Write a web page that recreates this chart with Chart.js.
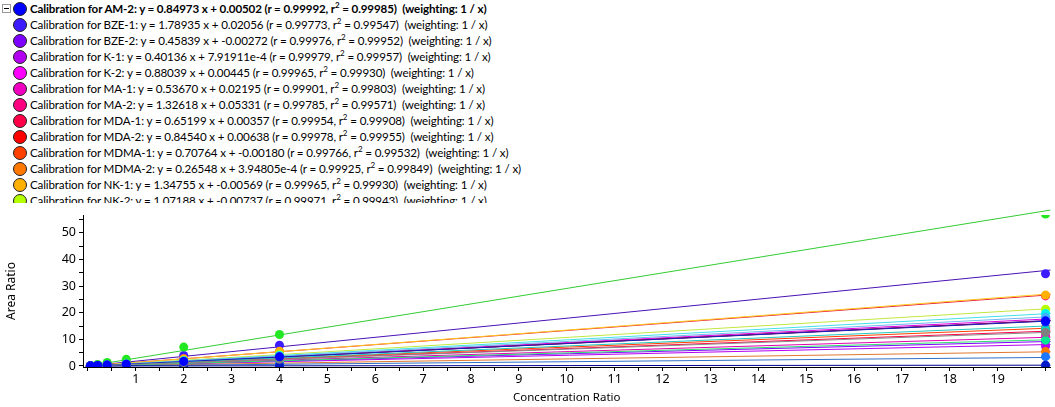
<!DOCTYPE html>
<html>
<head>
<meta charset="utf-8">
<script src="https://cdn.jsdelivr.net/npm/chart.js@4.4.1/dist/chart.umd.min.js"></script>
<style>
    body { margin: 0; width: 1055px; height: 407px; overflow: hidden; background: #fff; font-family: "Noto Sans", sans-serif; }
    #calList { position: absolute; left: 0; top: 0; width: 1055px; height: 203px; overflow: hidden; font-family: Lato, sans-serif; font-size: 11.6px; letter-spacing: -0.13px; padding-top: 1px; box-sizing: border-box; }
    .row { position: relative; height: 16px; line-height: 16px; white-space: pre; padding-left: 30px; color: #000; }
    .row .dot { position: absolute; left: 13px; top: 1px; width: 14px; height: 14px; border-radius: 50%; border: 1px solid #222; box-sizing: border-box; }
    .row.sel { font-weight: bold; }
    .toggle { position: absolute; left: 2px; top: 3px; width: 9px; height: 9px; border: 1px solid #999; box-sizing: border-box; background: #fff; }
    .toggle::after { content: ''; position: absolute; left: 1px; top: 3px; width: 5px; height: 1px; background: #000; }
    sup { font-size: 8px; line-height: 0; vertical-align: 5px; }
    #plotBox { position: absolute; left: 0; top: 203px; width: 1055px; height: 204px; }
</style>
</head>
<body>
<div id="calList"></div>
<div id="plotBox"><canvas id="calChart" width="1055" height="204"></canvas></div>
<script>
// ================= Data =================
// rows visible in the calibration list (the list is scrolled, later rows are cut off)
const calibNames = ["AM-2", "BZE-1", "BZE-2", "K-1", "K-2", "MA-1", "MA-2", "MDA-1", "MDA-2", "MDMA-1", "MDMA-2", "NK-1", "NK-2"];
const slopes = [0.84973, 1.78935, 0.45839, 0.40136, 0.88039, 0.53670, 1.32618, 0.65199, 0.84540, 0.70764, 0.26548, 1.34755, 1.07188];
const intercepts = [0.00502, 0.02056, -0.00272, 7.91911e-4, 0.00445, 0.02195, 0.05331, 0.00357, 0.00638, -0.00180, 3.94805e-4, -0.00569, -0.00737];
const rValues = [0.99992, 0.99773, 0.99976, 0.99979, 0.99965, 0.99901, 0.99785, 0.99954, 0.99978, 0.99766, 0.99925, 0.99965, 0.99971];
const r2Values = [0.99985, 0.99547, 0.99952, 0.99957, 0.99930, 0.99803, 0.99571, 0.99908, 0.99955, 0.99532, 0.99849, 0.99930, 0.99943];

// calibrations further down the list (not readable), slopes
const unlistedSlopes = [2.91, 0.49, 0.75, 0.98, 0.92, 0.16, 0.84, 0.015, 0.63];

// calibration standards (x) and measured area ratios (y), one list per calibration
const concX = [0.05, 0.2, 0.4, 0.8, 2, 4, 20];
const areaRatios = [
    [0.05, 0.17, 0.35, 0.69, 1.68, 3.42, 16.95],   // AM-2
    [0.10, 0.38, 0.74, 1.47, 3.95, 7.80, 34.6],    // BZE-1
    [0.02, 0.09, 0.18, 0.37, 0.92, 1.85, 9.15],    // BZE-2
    [0.02, 0.08, 0.16, 0.32, 0.81, 1.62, 7.45],    // K-1
    [0.05, 0.18, 0.35, 0.71, 1.77, 3.55, 17.5],    // K-2
    [0.05, 0.13, 0.23, 0.45, 1.10, 2.18, 11.3],    // MA-1
    [0.12, 0.32, 0.58, 1.12, 2.75, 5.40, 26.3],    // MA-2
    [0.04, 0.13, 0.27, 0.53, 1.31, 2.62, 12.9],    // MDA-1
    [0.05, 0.17, 0.34, 0.68, 1.70, 3.41, 16.8],    // MDA-2
    [0.03, 0.14, 0.28, 0.55, 1.40, 2.86, 14.1],    // MDMA-1
    [0.01, 0.05, 0.11, 0.21, 0.53, 1.07, 5.4],     // MDMA-2
    [0.06, 0.27, 0.54, 1.08, 2.68, 5.55, 26.6],    // NK-1
    [0.05, 0.21, 0.43, 0.86, 2.14, 4.30, 21.3],    // NK-2
    [0.15, 0.60, 1.35, 2.50, 7.10, 11.8, 57.0],
    [0.03, 0.10, 0.20, 0.39, 0.98, 1.97, 9.7],
    [0.04, 0.15, 0.30, 0.60, 1.50, 3.00, 13.8],
    [0.05, 0.20, 0.39, 0.79, 1.96, 3.95, 19.7],
    [0.05, 0.18, 0.37, 0.74, 1.84, 3.70, 18.3],
    [0.01, 0.03, 0.07, 0.13, 0.33, 0.66, 3.5],
    [0.04, 0.17, 0.33, 0.67, 1.68, 3.38, 16.5],
    [0.00, 0.00, 0.01, 0.01, 0.03, 0.06, 0.3],
    [0.03, 0.13, 0.25, 0.50, 1.26, 2.52, 12.6]
];

const xTickLabels = [1, 2, 3, 4, 5, 6, 7, 8, 9, 10, 11, 12, 13, 14, 15, 16, 17, 18, 19];
const yTickLabels = [0, 10, 20, 30, 40, 50];

// ================= Styles =================
const dotColors = ['#0000ff', '#3c1cff', '#7d00ff', '#b400f0', '#ff00ff', '#f000c0', '#ff0080', '#ff0048', '#ff0000', '#ff4000', '#ff7800', '#ffb000', '#b4ff00',
    '#22e822', '#00e890', '#00d8c0', '#00f0f0', '#40b0ff', '#1e78ff', '#0030ff', '#0018c8', '#808080'];
const lineColors = ['#0000e0', '#4a12b4', '#7d00ff', '#b400f0', '#e000e0', '#e000b0', '#e8203c', '#ff0048', '#e00000', '#ff4000', '#e07830', '#ffc820', '#c0e840',
    '#33cc33', '#30e070', '#20c8c0', '#40e0e8', '#70b8f0', '#3070c8', '#1020c0', '#000090', '#888888'];
const fontFamily = '"Noto Sans", sans-serif';

// ================= Calibration list =================
function fmt(v) {
    if (v !== 0 && Math.abs(v) < 0.001) return v.toExponential(5);
    return v.toFixed(5);
}

const list = document.getElementById("calList");
calibNames.forEach((name, i) => {
    const row = document.createElement("div");
    row.className = "row" + (i === 0 ? " sel" : "");
    row.innerHTML = `${i === 0 ? '<span class="toggle"></span>' : ''}<span class="dot" style="background:${dotColors[i]}"></span>` +
        `Calibration for ${name}: y = ${fmt(slopes[i])} x + ${fmt(intercepts[i])} (r = ${rValues[i].toFixed(5)}, r<sup>2</sup> = ${r2Values[i].toFixed(5)})  (weighting: 1 / x)`;
    list.appendChild(row);
});

// ================= Chart =================
const allSlopes = slopes.concat(unlistedSlopes);
const allIntercepts = intercepts.concat(unlistedSlopes.map(() => 0));
const n = allSlopes.length;
const xStart = 0, xEnd = 20.104;

const datasets = [];
allSlopes.forEach((m, i) => {
    const b = allIntercepts[i];
    datasets.push({
        type: 'line',
        label: 'fit ' + i,
        data: [{ x: xStart, y: m * xStart + b }, { x: xEnd, y: m * xEnd + b }],
        borderColor: lineColors[i],
        borderWidth: 1,
        pointRadius: 0,
        fill: false,
        clip: false,
        order: 200 + (n - i)
    });
    datasets.push({
        type: 'scatter',
        label: 'points ' + i,
        data: concX.map((x, k) => ({ x: x, y: areaRatios[i][k] })),
        backgroundColor: dotColors[i],
        borderColor: dotColors[i],
        borderWidth: 0,
        pointRadius: 4.5,
        order: i === 0 ? -1 : (n - i)
    });
});

const xTicks = [0];
xTickLabels.forEach(v => { xTicks.push(v - 0.5, v); });
xTicks.push(19.5, 20);
const yTicks = [];
yTickLabels.forEach(v => { yTicks.push(v, v + 5); });

new Chart(document.getElementById('calChart').getContext('2d'), {
    type: 'scatter',
    data: { datasets: datasets },
    options: {
        responsive: false,
        animation: false,
        layout: { padding: { top: 12, right: 2, left: 0, bottom: 0 } },
        plugins: { legend: { display: false }, tooltip: { enabled: false } },
        scales: {
            x: {
                type: 'linear',
                min: -0.104,
                max: 20.104,
                afterBuildTicks: s => { s.ticks = xTicks.map(v => ({ value: v })); },
                afterFit: s => { s.height = 40; },
                ticks: {
                    autoSkip: false, maxRotation: 0, padding: 1, color: '#000',
                    font: { family: fontFamily, size: 12.5 },
                    callback: v => xTickLabels.includes(v) ? String(v) : ''
                },
                grid: { drawOnChartArea: false, tickLength: 4, color: '#000' },
                border: { color: '#000', width: 1 },
                title: { display: true, text: 'Concentration Ratio', color: '#000', font: { family: fontFamily, size: 11.5 }, padding: { top: 0, bottom: 2 } }
            },
            y: {
                type: 'linear',
                min: -0.38,
                max: 56.65,
                afterBuildTicks: s => { s.ticks = yTicks.map(v => ({ value: v })); },
                afterFit: s => { s.width = 83; },
                ticks: {
                    autoSkip: false, padding: 3, color: '#000',
                    font: { family: fontFamily, size: 12.5 },
                    callback: v => yTickLabels.includes(v) ? String(v) : ''
                },
                grid: { drawOnChartArea: false, tickLength: 4, color: '#000' },
                border: { color: '#000', width: 1 },
                title: { display: true, text: 'Area Ratio', color: '#000', font: { family: fontFamily, size: 12 }, padding: { top: 4, bottom: 0 } }
            }
        }
    }
});
</script>
</body>
</html>
